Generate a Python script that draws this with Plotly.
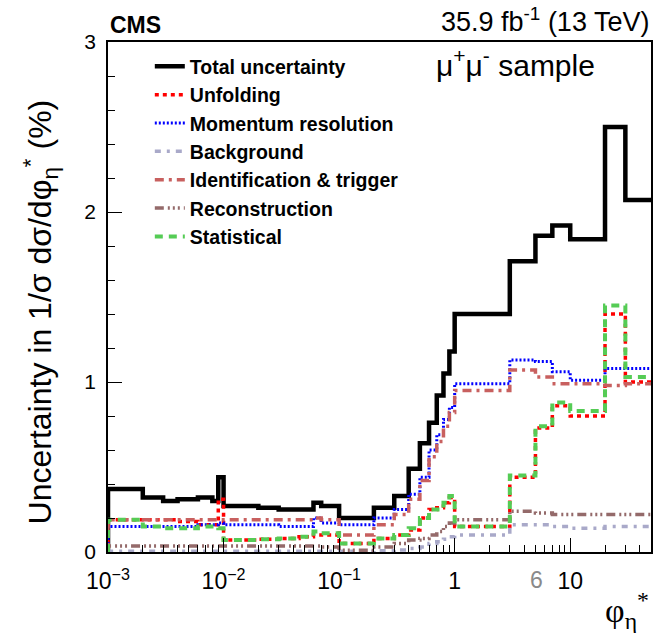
import math
import plotly.graph_objects as go

# phi*_eta bin edges
phi_edges = [0.001, 0.002, 0.003, 0.004, 0.006, 0.008, 0.009, 0.01, 0.02, 0.03,
             0.045, 0.06, 0.07, 0.1, 0.2, 0.3, 0.4, 0.5, 0.6, 0.7, 0.8, 0.9, 1.0,
             3.0, 5.0, 7.0, 10.0, 20.0, 30.0, 50.0]

# relative uncertainties (%) per bin
total = [0.37, 0.32, 0.30, 0.31, 0.32, 0.30, 0.44, 0.27, 0.26, 0.25, 0.25, 0.29, 0.27,
         0.20, 0.26, 0.33, 0.49, 0.64, 0.76, 0.92, 1.05, 1.18, 1.40,
         1.71, 1.86, 1.92, 1.84, 2.50, 2.07]
unfolding = [0.19, 0.19, 0.19, 0.18, 0.16, 0.16, 0.31, 0.07, 0.075, 0.08, 0.09, 0.10, 0.10,
             0.05, 0.08, 0.10, 0.13, 0.20, 0.25, 0.26, 0.29, 0.32, 0.15,
             0.44, 0.73, 0.86, 0.80, 1.40, 1.00]
momentum = [0.15, 0.15, 0.15, 0.15, 0.16, 0.16, 0.17, 0.16, 0.16, 0.15, 0.15, 0.20, 0.17,
            0.16, 0.20, 0.25, 0.34, 0.44, 0.60, 0.69, 0.78, 0.85, 0.99,
            1.13, 1.12, 1.06, 1.01, 1.08, 1.08]
background = [0.005, 0.005, 0.005, 0.005, 0.005, 0.005, 0.005, 0.005, 0.005, 0.005, 0.005, 0.005, 0.005,
              0.005, 0.008, 0.012, 0.02, 0.03, 0.05, 0.06, 0.075, 0.09, 0.10,
              0.16, 0.16, 0.15, 0.14, 0.15, 0.15]
identification = [0.19, 0.19, 0.19, 0.19, 0.19, 0.19, 0.19, 0.19, 0.19, 0.19, 0.19, 0.20, 0.19,
                  0.10, 0.16, 0.22, 0.31, 0.42, 0.56, 0.65, 0.74, 0.82, 0.95,
                  1.07, 1.03, 0.99, 0.99, 0.98, 0.99]
reconstruction = [0.035, 0.035, 0.035, 0.035, 0.035, 0.035, 0.035, 0.035, 0.035, 0.035, 0.035, 0.035, 0.03,
                  0.01, 0.03, 0.05, 0.07, 0.08, 0.10, 0.12, 0.15, 0.17, 0.19,
                  0.24, 0.23, 0.22, 0.22, 0.22, 0.22]
statistical = [0.19, 0.15, 0.14, 0.14, 0.15, 0.15, 0.14, 0.07, 0.075, 0.08, 0.09, 0.12, 0.11,
               0.05, 0.08, 0.10, 0.14, 0.20, 0.25, 0.25, 0.29, 0.33, 0.15,
               0.45, 0.74, 0.88, 0.83, 1.45, 1.03]

x_tick_vals = [0.001, 0.01, 0.1, 1, 10]
x_tick_text = ["10<sup>\u22123</sup>", "10<sup>\u22122</sup>", "10<sup>\u22121</sup>", "1", "10"]
y_tick_vals = [0, 1, 2, 3]

series = [
    ("Total uncertainty", total, dict(color="black", width=4.5, dash="solid")),
    ("Unfolding", unfolding, dict(color="#ff0000", width=3.5, dash="4px,4px")),
    ("Momentum resolution", momentum, dict(color="#0000ff", width=3, dash="2px,2px")),
    ("Background", background, dict(color="#a9a9c9", width=3.5, dash="6px,6px,3px,6px")),
    ("Identification & trigger", identification, dict(color="#c8605f", width=3.5, dash="9px,5px,3px,5px")),
    ("Reconstruction", reconstruction, dict(color="#946a6a", width=3.5, dash="9px,4px,2px,3px,2px,3px,2px,4px")),
    ("Statistical", statistical, dict(color="#55cc55", width=4, dash="8px,6px")),
]

fig = go.Figure()
for name, vals, line in series:
    # histogram outline: rise from zero at the first edge, then step per bin
    xs = [phi_edges[0]] + phi_edges
    ys = [0] + vals + [vals[-1]]
    fig.add_trace(go.Scatter(
        x=xs, y=ys, mode="lines", name="<b>%s</b>" % name, legendgroup=name,
        line=dict(shape="hv", **line),
    ))

minor_vals = [k * 10 ** d for d in range(-3, 2) for k in range(2, 10) if k * 10 ** d < 50]

font_family = "Liberation Sans, Arial, sans-serif"

fig.update_layout(
    width=658, height=633,
    margin=dict(l=108, r=5, t=42, b=81),
    paper_bgcolor="white", plot_bgcolor="white",
    font=dict(family=font_family, color="black"),
    showlegend=True,
    legend=dict(
        x=0.077, y=0.99, xanchor="left", yanchor="top",
        bgcolor="rgba(0,0,0,0)", font=dict(size=19.5, family=font_family),
        tracegroupgap=0, itemwidth=30,
    ),
    xaxis=dict(
        type="log", range=[-3, math.log10(50)],
        tickmode="array", tickvals=x_tick_vals, ticktext=x_tick_text,
        ticks="inside", ticklen=14, tickwidth=1, tickcolor="black",
        tickfont=dict(size=23), ticklabelstandoff=8,
        minor=dict(tickmode="array", tickvals=minor_vals, ticks="inside",
                   ticklen=7, tickwidth=1, tickcolor="black"),
        showline=True, linecolor="black", linewidth=1.5, mirror=True,
        showgrid=False, zeroline=False,
    ),
    yaxis=dict(
        range=[0, 3], tickmode="array", tickvals=y_tick_vals,
        ticks="inside", ticklen=14, tickwidth=1, tickcolor="black",
        tickfont=dict(size=21), ticklabelstandoff=6,
        minor=dict(dtick=0.2, ticks="inside", ticklen=7, tickwidth=1, tickcolor="black"),
        showline=True, linecolor="black", linewidth=1.5, mirror=True,
        showgrid=False, zeroline=False,
    ),
)

# y-axis title placed explicitly
fig.add_annotation(text="Uncertainty in 1/\u03c3 d\u03c3/d\u03c6<sub>\u03b7</sub><sup>*</sup> (%)",
                   xref="paper", yref="paper", x=-0.125, y=0.47, textangle=-90,
                   xanchor="center", yanchor="middle", showarrow=False,
                   font=dict(size=32))
fig.add_annotation(text="<b>CMS</b>", xref="paper", yref="paper", x=0.0, y=1.0,
                   xanchor="left", yanchor="bottom", yshift=2, showarrow=False,
                   font=dict(size=23))
fig.add_annotation(text="35.9 fb<sup>-1</sup> (13 TeV)", xref="paper", yref="paper",
                   x=1.0, y=1.0, xanchor="right", yanchor="bottom", yshift=3,
                   showarrow=False, font=dict(size=27))
fig.add_annotation(text="\u03bc<sup>+</sup>\u03bc<sup>-</sup> sample", xref="paper", yref="paper",
                   x=0.9, y=0.985, xanchor="right", yanchor="top", yshift=8, showarrow=False,
                   font=dict(size=30))
fig.add_annotation(text="\u03c6<sub>\u03b7</sub><sup>*</sup>", xref="paper", yref="paper",
                   x=1.0, y=-0.065, xanchor="right", yanchor="top", showarrow=False,
                   font=dict(size=34, family="Liberation Serif, Times New Roman, serif"))
fig.add_annotation(text="6", xref="x", yref="paper", x=math.log10(5.1), y=-0.055,
                   xanchor="center", yanchor="middle", showarrow=False,
                   font=dict(size=23, color="#8a8a8a"))

fig.write_html("out.html")
